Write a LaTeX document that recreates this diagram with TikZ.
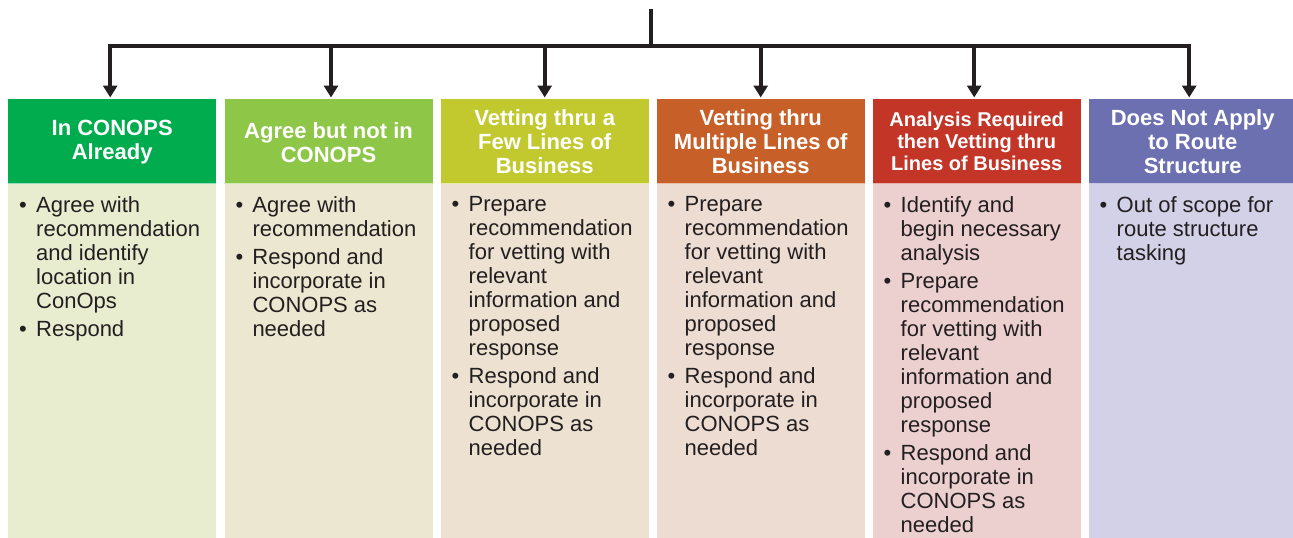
\documentclass[tikz,border=0pt]{standalone}
\usepackage{fontspec}
\setmainfont{Liberation Sans}
\usetikzlibrary{arrows.meta}
\definecolor{lineclr}{RGB}{35,31,32}
\definecolor{txtclr}{RGB}{35,31,32}
\definecolor{hA}{RGB}{0,172,77}
\definecolor{hB}{RGB}{142,198,72}
\definecolor{hC}{RGB}{194,201,46}
\definecolor{hD}{RGB}{198,96,40}
\definecolor{hE}{RGB}{194,53,39}
\definecolor{hF}{RGB}{108,112,176}
\definecolor{bA}{RGB}{233,237,208}
\definecolor{bB}{RGB}{236,231,208}
\definecolor{bC}{RGB}{237,226,210}
\definecolor{bD}{RGB}{237,220,210}
\definecolor{bE}{RGB}{236,208,208}
\definecolor{bF}{RGB}{211,209,232}
\newcommand\bl{\makebox[17pt][l]{\textbullet}}
\newcommand\ind{\hspace*{17pt}}
\begin{document}
\begin{tikzpicture}[x=1pt,y=-1pt,
  hdr/.style={minimum width=208pt, minimum height=84pt, anchor=north west, inner sep=0pt,
    text=white, font=\fontsize{22}{24}\selectfont\bfseries, align=center},
  bodybox/.style={minimum width=208pt, minimum height=355pt, anchor=north west, inner sep=0pt},
  bodytext/.style={anchor=north west, inner sep=0pt, align=left,
    font=\fontsize{22}{24}\selectfont, text=txtclr},
  edgeline/.style={line width=1.5pt},
  conn/.style={line width=4pt, draw=lineclr},
  arr/.style={conn, -{Triangle[length=12pt,width=14pt]}, shorten >=1.5pt}]
\useasboundingbox (0,0) rectangle (1293,538);

% bodies
\node[bodybox, fill=bA] (b1) at (8,183) {};
\node[bodybox, fill=bB] (b2) at (224.3,183) {};
\node[bodybox, fill=bC] (b3) at (440.5,183) {};
\node[bodybox, fill=bD] (b4) at (656.5,183) {};
\node[bodybox, fill=bE] (b5) at (872.5,183) {};
\node[bodybox, fill=bF] (b6) at (1088.5,183) {};

% headers
\node[hdr, fill=hA] (h1) at (8,99) {\rule{0pt}{18pt}In CONOPS\\Already};
\node[hdr, fill=hB] (h2) at (224.3,99) {\rule{0pt}{18pt}Agree but not in\\CONOPS};
\node[hdr, fill=hC] (h3) at (440.5,99) {Vetting thru a\\Few Lines of\\Business};
\node[hdr, fill=hD] (h4) at (656.5,99) {Vetting thru\\Multiple Lines of\\Business};
\node[hdr, fill=hE, font=\fontsize{20}{22}\selectfont\bfseries] (h5) at (872.5,99) {Analysis Required\\then Vetting thru\\Lines of Business};
\node[hdr, fill=hF] (h6) at (1088.5,99) {Does Not Apply\\to Route\\Structure};

% light strip below headers
\draw[edgeline, draw=hA!40!white] (h1.south west) -- (h1.south east);
\draw[edgeline, draw=hB!40!white] (h2.south west) -- (h2.south east);
\draw[edgeline, draw=hC!40!white] (h3.south west) -- (h3.south east);
\draw[edgeline, draw=hD!40!white] (h4.south west) -- (h4.south east);
\draw[edgeline, draw=hE!40!white] (h5.south west) -- (h5.south east);
\draw[edgeline, draw=hF!40!white] (h6.south west) -- (h6.south east);

% body texts
\node[bodytext] (t1) at (19,196) {\bl Agree with\\ \ind recommendation\\ \ind and identify\\ \ind location in\\ \ind ConOps\\[4pt] \bl Respond};
\node[bodytext] (t2) at (235.3,196) {\bl Agree with\\ \ind recommendation\\[4pt] \bl Respond and\\ \ind incorporate in\\ \ind CONOPS as\\ \ind needed};
\node[bodytext] (t3) at (451.5,196) {\bl Prepare\\ \ind recommendation\\ \ind for vetting with\\ \ind relevant\\ \ind information and\\ \ind proposed\\ \ind response\\[4pt] \bl Respond and\\ \ind incorporate in\\ \ind CONOPS as\\ \ind needed};
\node[bodytext] (t4) at (667.5,196) {\bl Prepare\\ \ind recommendation\\ \ind for vetting with\\ \ind relevant\\ \ind information and\\ \ind proposed\\ \ind response\\[4pt] \bl Respond and\\ \ind incorporate in\\ \ind CONOPS as\\ \ind needed};
\node[bodytext] (t5) at (883.5,196) {\bl Identify and\\ \ind begin necessary\\ \ind analysis\\[4pt] \bl Prepare\\ \ind recommendation\\ \ind for vetting with\\ \ind relevant\\ \ind information and\\ \ind proposed\\ \ind response\\[4pt] \bl Respond and\\ \ind incorporate in\\ \ind CONOPS as\\ \ind needed};
\node[bodytext] (t6) at (1099.5,196) {\bl Out of scope for\\ \ind route structure\\ \ind tasking};

% connectors
\coordinate (top) at (651,9);
\coordinate (bus) at (651,45.5);
\draw[conn] (top) -- (bus);
\draw[arr] (bus) -| ([xshift=-2pt]h1.north);
\draw[arr] (bus) -| ([xshift=2.5pt]h2.north);
\draw[arr] (bus) -| (h3.north);
\draw[arr] (bus) -| (h4.north);
\draw[arr] (bus) -| ([xshift=-2.5pt]h5.north);
\draw[arr] (bus) -| ([xshift=-3.5pt]h6.north);
\end{tikzpicture}
\end{document}
